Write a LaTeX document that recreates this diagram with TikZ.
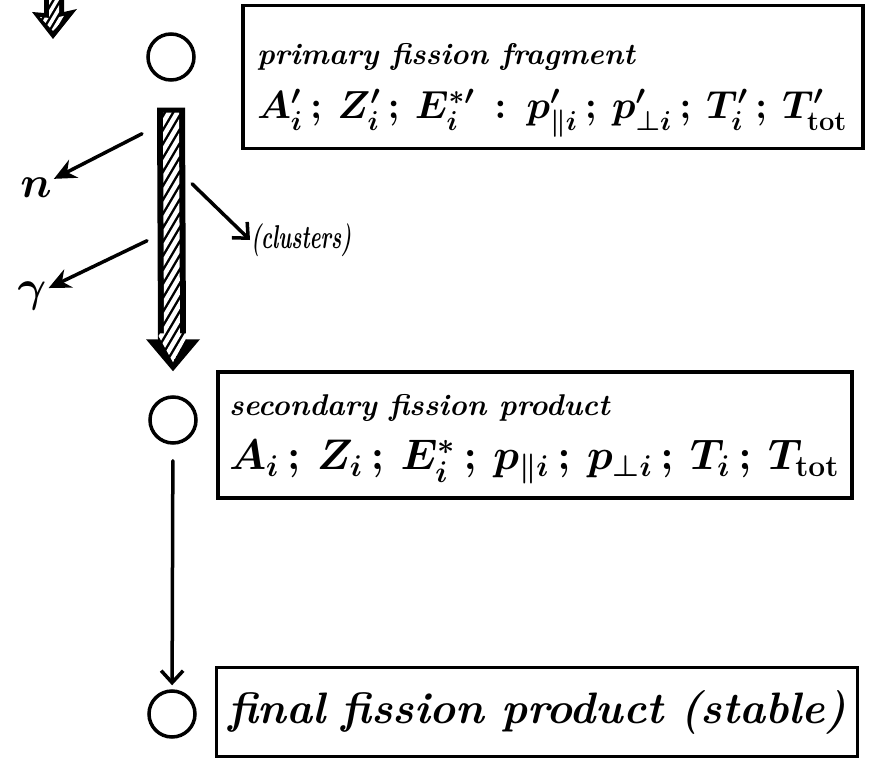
\RequirePackage{fix-cm}
\documentclass[tikz,border=0pt]{standalone}
\usepackage{graphicx}
\usetikzlibrary{arrows.meta,calc}
\begin{document}
\begin{tikzpicture}[x=1pt,y=-1pt,
  stroke/.style={line width=3.5pt, line cap=round, line join=round},
  atom/.style={circle, draw, line width=3.5pt, minimum size=46pt, inner sep=0pt},
  box/.style={draw, line width=3.5pt, rectangle, align=flush left, inner sep=0pt,
    font=\fontsize{30}{36}\selectfont\bfseries\itshape\boldmath},
  lbl/.style={inner sep=2pt, font=\fontsize{44}{50}\selectfont\bfseries\itshape\boldmath},
  emit/.style={stroke, -{Stealth[length=22pt,width=20pt]}},
  barb/.style={stroke, -{Straight Barb[length=12pt,width=22pt]}},
  stripe/.style={white, line width=4.5pt}
]
\useasboundingbox (0,0) rectangle (889,765);

% circles (nuclei)
\node[atom] (c1) at (171,57) {};
\node[atom] (c2) at (173,420) {};
\node[atom] (c3) at (172,714) {};

% boxes
\node[box, minimum width=620pt, minimum height=143pt, text width=592pt] (b1) at (553,77)
  {\rule{0pt}{48pt}primary fission fragment\\[18pt]
   \resizebox{590pt}{!}{\fontsize{36}{40}\selectfont
   $A'_i\,;\,Z'_i\,;\,E^{*\prime}_i\,:\,p'_{\parallel i}\,;\,p'_{\perp i}\,;\,T'_i\,;\,T'_{\mathrm{tot}}$}};
\node[box, minimum width=634pt, minimum height=126pt, text width=612pt] (b2) at (535,435)
  {\rule{0pt}{30pt}secondary fission product\\[18pt]
   \resizebox{610pt}{!}{\fontsize{36}{40}\selectfont
   $A_i\,;\,Z_i\,;\,E^{*}_i\,;\,p_{\parallel i}\,;\,p_{\perp i}\,;\,T_i\,;\,T_{\mathrm{tot}}$}};
\node[box, minimum width=641pt, minimum height=89pt, text width=618pt,
  font=\fontsize{44}{50}\selectfont\bfseries\itshape] (b3) at (537,712)
  {final fission product (stable)};

% hatched thick arrow from c1 to c2
\path (c1.south) ++(0,26) coordinate (ha);
\path (c2.north) ++(0,-24) coordinate (hb);
\fill ($(ha)+(-14,0)$) -- ($(ha)+(14,0)$) -- ($(hb)+(13,-32)$) -- ($(hb)+(27,-32)$)
  -- (hb) -- ($(hb)+(-27,-32)$) -- ($(hb)+(-15,-32)$) -- cycle;
\begin{scope}
  \clip ($(ha)+(-8,5)$) -- ($(ha)+(8,5)$) -- ($(hb)+(7,-38)$) -- ($(hb)+(16,-38)$)
    -- ($(hb)+(0,-9)$) -- ($(hb)+(-16,-38)$) -- ($(hb)+(-9,-38)$) -- cycle;
  \foreach \k in {0,...,22}
    \draw[stripe] ($(ha)+(-25,30+\k*14)$) -- ++(50,-85);
\end{scope}

% partial hatched arrow at top left
\begin{scope}
  \clip (0,0) rectangle (889,765);
  \fill (44,-10) -- (64,-10) -- (64,12) -- (77,9) -- (53,39) -- (32,12) -- (44,13) -- cycle;
  \clip (49,-10) -- (59,-10) -- (59,17) -- (68,15) -- (53,31) -- (40,17) -- (49,18) -- cycle;
  \foreach \k in {0,...,5}
    \draw[stripe, line width=3.5pt] (30,10+\k*12) -- ++(40,-68);
\end{scope}

% emissions
\coordinate (e1) at ($(ha)+(-29,26)$);
\coordinate (e2) at ($(ha)+(-24,133)$);
\coordinate (e3) at ($(ha)+(21,76)$);
\node[lbl] (n) at (36,188) {$n$};
\node[lbl] (g) at (32,296) {$\gamma$};
\node[lbl, font=\fontsize{22}{26}\selectfont\bfseries\itshape, anchor=west, inner sep=1pt] (cl) at (250,240) {\scalebox{0.95}[1.5]{(clusters)}};
\draw[emit] (e1) -- (n);
\draw[emit] (e2) -- (g);
\draw[barb] (e3) -- (cl.west);

% decay c2 -> c3
\draw[barb, shorten <=16pt, shorten >=4pt] (c2) -- (c3);
\end{tikzpicture}
\end{document}
